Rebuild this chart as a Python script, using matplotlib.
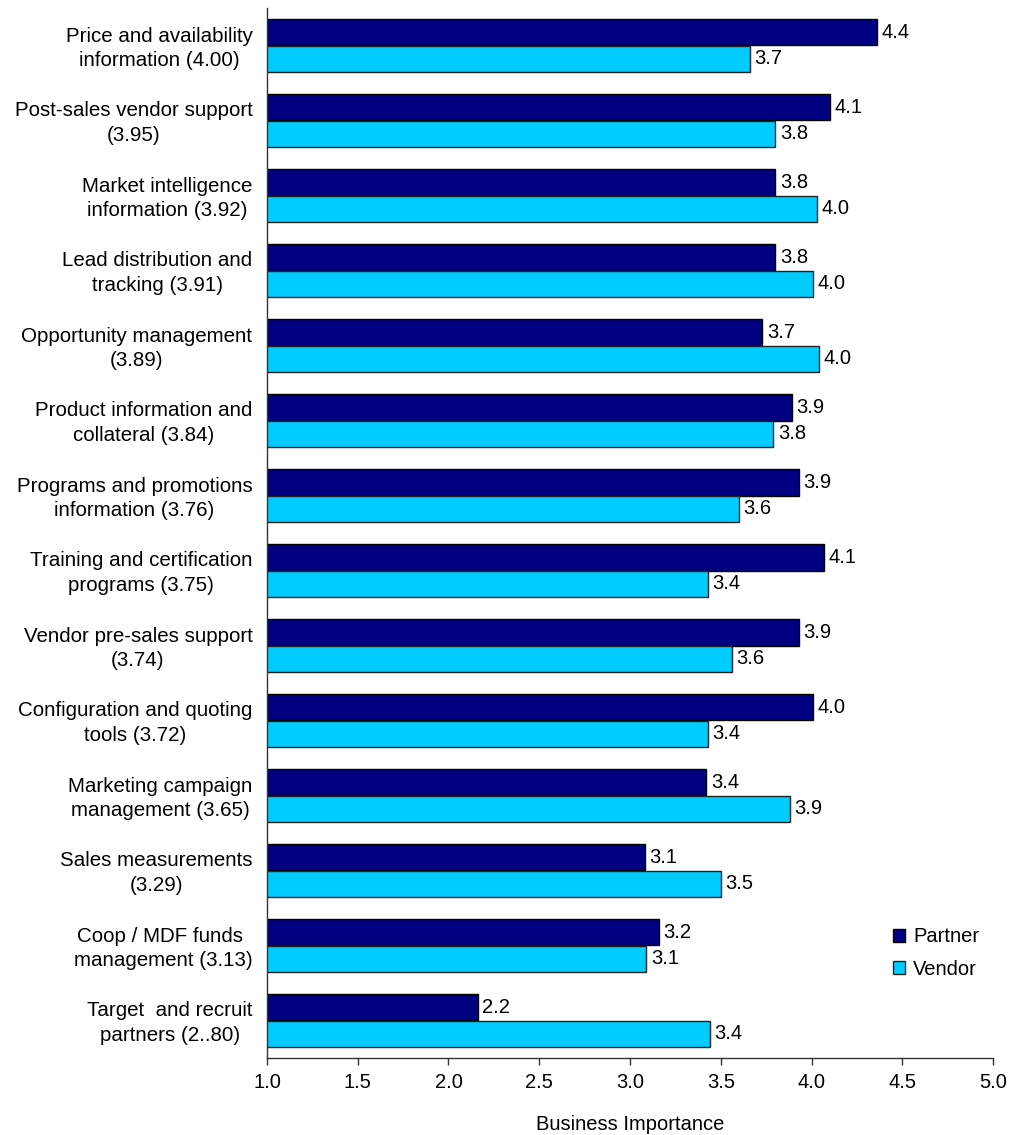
import matplotlib
matplotlib.use("Agg")
import matplotlib.pyplot as plt
from matplotlib.patches import Patch
import matplotlib.transforms as mtransforms
import numpy as np

plt.rcParams['font.family'] = ['Liberation Sans', 'DejaVu Sans']

categories = [
    "Price and availability\ninformation (4.00)",
    "Post-sales vendor support\n(3.95)",
    "Market intelligence\ninformation (3.92)",
    "Lead distribution and\ntracking (3.91)",
    "Opportunity management\n(3.89)",
    "Product information and\ncollateral (3.84)",
    "Programs and promotions\ninformation (3.76)",
    "Training and certification\nprograms (3.75)",
    "Vendor pre-sales support\n(3.74)",
    "Configuration and quoting\ntools (3.72)",
    "Marketing campaign\nmanagement (3.65)",
    "Sales measurements\n(3.29)",
    "Coop / MDF funds \nmanagement (3.13)",
    "Target  and recruit\npartners (2..80)",
]
partner = [4.36, 4.10, 3.80, 3.80, 3.73, 3.89, 3.93, 4.07, 3.93, 4.01, 3.42, 3.08, 3.16, 2.16]
vendor = [3.66, 3.80, 4.03, 4.01, 4.04, 3.79, 3.60, 3.43, 3.56, 3.43, 3.88, 3.50, 3.09, 3.44]
series_names = ["Partner", "Vendor"]
xticks = [1.0, 1.5, 2.0, 2.5, 3.0, 3.5, 4.0, 4.5, 5.0]

c_partner = "#000080"
c_vendor = "#00CCFF"
FS = 14.5
FS_CAT = 14.8

fig = plt.figure(figsize=(10.12, 11.35), dpi=100)
ax = fig.add_axes([267/1012, 1 - 1058/1135, (993 - 267)/1012, (1058 - 8)/1135])

y = np.arange(len(categories))
bh = 0.347
ax.barh(y - bh/2, partner, height=bh, color=c_partner, edgecolor="black", linewidth=1.0)
ax.barh(y + bh/2, vendor, height=bh, color=c_vendor, edgecolor="#222222", linewidth=1.0)

for yi, v in zip(y, partner):
    ax.text(v + 0.025, yi - bh/2, f"{v:.1f}", va="center", ha="left", fontsize=FS)
for yi, v in zip(y, vendor):
    ax.text(v + 0.025, yi + bh/2, f"{v:.1f}", va="center", ha="left", fontsize=FS)

ax.set_xlim(1.0, 5.0)
ax.set_ylim(len(categories) - 0.5, -0.5)
ax.set_xticks(xticks)
ax.set_xticklabels([f"{t:.1f}" for t in xticks], fontsize=FS)
ax.set_yticks(y)
ax.set_yticklabels(categories, fontsize=FS_CAT, ha="right", multialignment="center",
                   linespacing=1.38)
ax.tick_params(axis="y", length=0, pad=10.5)
ax.tick_params(axis="x", length=5, width=1, pad=6, color="#333333")
ax.set_xlabel("Business Importance", fontsize=FS, labelpad=16.5)

offset = mtransforms.ScaledTranslation(0, 2/100, fig.dpi_scale_trans)
for lab in ax.get_yticklabels():
    lab.set_transform(lab.get_transform() + offset)

for s in ["top", "right"]:
    ax.spines[s].set_visible(False)
for s in ["left", "bottom"]:
    ax.spines[s].set_color("#333333")
    ax.spines[s].set_linewidth(1.0)

handles = [Patch(facecolor=c_partner, edgecolor="black", linewidth=1.0),
           Patch(facecolor=c_vendor, edgecolor="#222222", linewidth=1.0)]
fig.legend(handles, series_names, loc="center left",
           bbox_to_anchor=(875/1012, 1 - 953/1135), frameon=False,
           fontsize=FS, handlelength=0.6, handleheight=0.6,
           handletextpad=0.4, labelspacing=0.65)

fig.savefig("out.png", dpi=100)
